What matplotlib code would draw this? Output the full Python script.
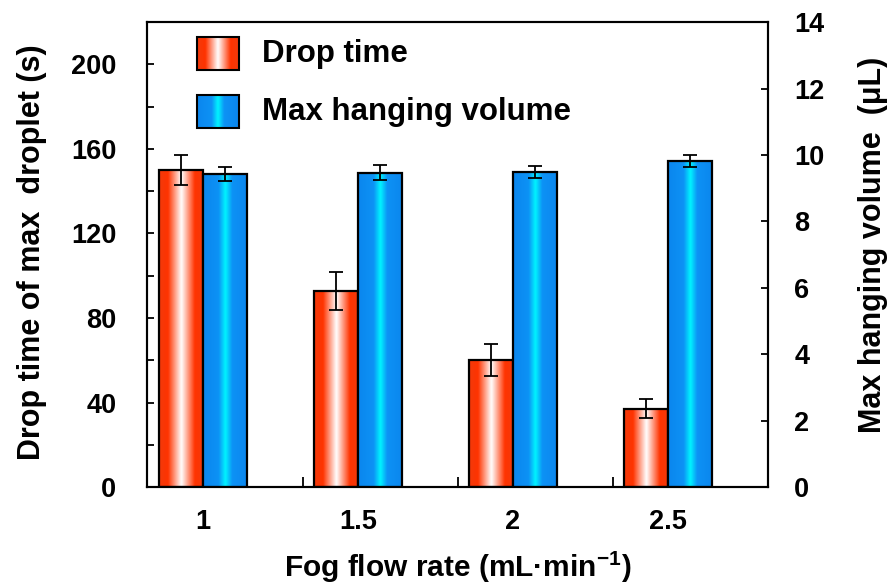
import numpy as np
import matplotlib
matplotlib.use('Agg')
from matplotlib import pyplot as plt
from matplotlib.colors import LinearSegmentedColormap
from matplotlib.patches import Rectangle
from matplotlib.ticker import MultipleLocator, FixedLocator

plt.rcParams['font.family'] = 'Liberation Sans'
plt.rcParams['font.weight'] = 'bold'
plt.rcParams['axes.labelweight'] = 'bold'
plt.rcParams['mathtext.fontset'] = 'custom'
plt.rcParams['mathtext.rm'] = 'Liberation Sans:bold'
plt.rcParams['mathtext.bf'] = 'Liberation Sans:bold'

# data
flow_rates = ['1', '1.5', '2', '2.5']
drop_time = [150, 93, 60, 37]
drop_time_err = [7, 9, 7.5, 4.5]
volume = [9.43, 9.47, 9.5, 9.82]
volume_err = [0.2, 0.22, 0.18, 0.18]

red_cmap = LinearSegmentedColormap.from_list(
    'redgrad', [(0, '#f23a0c'), (0.2, '#ff3300'), (0.5, '#ffffff'), (0.8, '#ff3300'), (1, '#f23a0c')])
blue_cmap = LinearSegmentedColormap.from_list(
    'bluegrad', [(0, '#0b86ee'), (0.35, '#0d92f5'), (0.5, '#00f5ff'), (0.65, '#0d92f5'), (1, '#0b86ee')])
grad = np.linspace(0, 1, 256).reshape(1, -1)

fig = plt.figure(figsize=(8.93, 5.85), dpi=100)
ax = fig.add_axes([0.1646, 0.1675, 0.6954, 0.7945])
ax2 = ax.twinx()

x = np.arange(len(flow_rates))
w = 0.285


def gradient_bars(axis, xs, heights, errs, cmap):
    for xi, h, e in zip(xs, heights, errs):
        axis.imshow(grad, cmap=cmap, aspect='auto', extent=[xi - w / 2, xi + w / 2, 0, h],
                    interpolation='bicubic', zorder=2)
    axis.bar(xs, heights, width=w, facecolor='none', edgecolor='black', linewidth=1.6, zorder=3)
    axis.errorbar(xs, heights, yerr=errs, fmt='none', ecolor='black', elinewidth=1.3,
                  capsize=5, capthick=1.3, zorder=4)


gradient_bars(ax, x - w / 2, drop_time, drop_time_err, red_cmap)
gradient_bars(ax2, x + w / 2, volume, volume_err, blue_cmap)

ax.set_xticks(x)
ax.set_xticklabels(flow_rates)
ax.xaxis.set_minor_locator(FixedLocator([0.645, 1.645, 2.645]))
ax.tick_params(axis='x', which='major', length=0, pad=16, labelsize=19.5)
ax.tick_params(axis='x', which='minor', direction='in', length=7, width=1.3)

ax.yaxis.set_major_locator(MultipleLocator(40))
ax.yaxis.set_minor_locator(MultipleLocator(20))
ax.tick_params(axis='y', which='both', direction='in', length=5, width=1.3, pad=22, labelsize=19.5)
ax2.yaxis.set_major_locator(MultipleLocator(2))
ax2.tick_params(axis='y', direction='in', length=5, width=1.3, pad=19, labelsize=19.5)

for sp in ax.spines.values():
    sp.set_linewidth(1.5)
for sp in ax2.spines.values():
    sp.set_linewidth(1.5)

ax.set_xlabel('Fog flow rate (mL\u00b7min$^{-1}$)', fontsize=21.5, va='center')
ax.xaxis.set_label_coords(0.5, -0.172)
ax.set_ylabel('Drop time of max  droplet (s)', fontsize=22, va='center')
ax.yaxis.set_label_coords(-0.185, 0.505)
ax2.set_ylabel('Max hanging volume  (\u03bcL)', fontsize=22, va='center')
ax2.yaxis.set_label_coords(1.169, 0.52)

# legend with gradient swatches
for (y0, y1), cmap, label in [((0.897, 0.968), red_cmap, 'Drop time'),
                              ((0.772, 0.843), blue_cmap, 'Max hanging volume')]:
    ax2.imshow(grad, cmap=cmap, aspect='auto', extent=[0.0805, 0.148, y0, y1],
               transform=ax2.transAxes, interpolation='bicubic', zorder=5)
    ax2.add_patch(Rectangle((0.0805, y0), 0.148 - 0.0805, y1 - y0, transform=ax2.transAxes,
                            facecolor='none', edgecolor='black', linewidth=1.5, zorder=6))
    ax2.text(0.185, (y0 + y1) / 2, label, transform=ax2.transAxes, va='center', ha='left',
             fontsize=22.5, fontweight='bold')

ax.set_xlim(-0.361, 3.645)
ax.set_ylim(0, 220)
ax2.set_ylim(0, 14)

fig.savefig('out.png', dpi=100)
